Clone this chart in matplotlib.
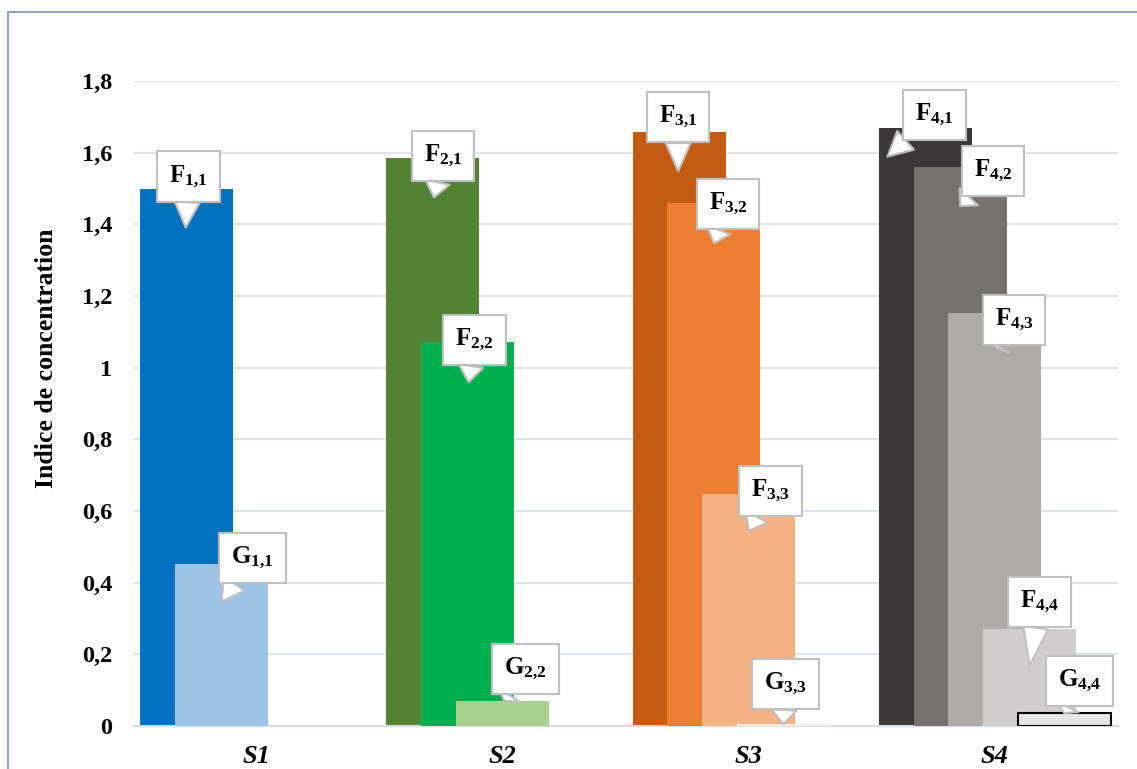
import matplotlib
matplotlib.use("Agg")
import matplotlib.pyplot as plt
from matplotlib import transforms
from matplotlib.lines import Line2D
from matplotlib.ticker import FuncFormatter

plt.rcParams['font.family'] = 'Liberation Serif'
plt.rcParams['font.weight'] = 'bold'
plt.rcParams['mathtext.fontset'] = 'custom'
plt.rcParams['mathtext.bf'] = 'Liberation Serif:bold'
plt.rcParams['mathtext.rm'] = 'Liberation Serif:bold'
plt.rcParams['mathtext.default'] = 'bf'

# Data
categories = ['S1', 'S2', 'S3', 'S4']

s1_values = [1.50, 0.453]
s2_values = [1.584, 1.071, 0.070]
s3_values = [1.657, 1.459, 0.648, 0.005]
s4_values = [1.670, 1.560, 1.152, 0.271, 0.036]

s1_labels = ['F_{1{,}1}', 'G_{1{,}1}']
s2_labels = ['F_{2{,}1}', 'F_{2{,}2}', 'G_{2{,}2}']
s3_labels = ['F_{3{,}1}', 'F_{3{,}2}', 'F_{3{,}3}', 'G_{3{,}3}']
s4_labels = ['F_{4{,}1}', 'F_{4{,}2}', 'F_{4{,}3}', 'F_{4{,}4}', 'G_{4{,}4}']

# Styles
s1_colors = ['#0070C0', '#9DC3E6']
s2_colors = ['#548235', '#00B050', '#A9D18E']
s3_colors = ['#C55A11', '#ED7D31', '#F4B183', '#F5EDE8']
s4_colors = ['#3A3838', '#767171', '#AEAAAA', '#D0CECE', '#E7E6E6']

# callout layout in pixels: (tip dx, tip dy from bar top, box dx, box dy from tip)
s1_callouts = [(-1, -39, 3, 51), (0, -38, 31, 44)]
s2_callouts = [(1, -39, 9, 41), (1, -40, 6, 42), (2, 0, 21, 32)]
s3_callouts = [(-1, -39, 0, 54), (0, -40, 14, 39), (0, -37, 22, 40), (0, 0, 2, 40)]
s4_callouts = [(-38, -29, 47, 42), (0, -39, 33, 35), (2, -35, 17, 28),
               (0, -37, 10, 64), (0, 0, 15, 32)]

groups = [
    (s1_values, s1_labels, s1_colors, s1_callouts),
    (s2_values, s2_labels, s2_colors, s2_callouts),
    (s3_values, s3_labels, s3_colors, s3_callouts),
    (s4_values, s4_labels, s4_colors, s4_callouts),
]

W, H = 1137, 769
fig = plt.figure(figsize=(W / 100, H / 100), dpi=100)
ax = fig.add_axes([133 / W, 1 - 726 / H, (1118 - 133) / W, (726 - 81) / H])

bar_w = 0.378
step = 0.141

for gi, (vals, labs, cols, calls) in enumerate(groups):
    for k, (v, lab, c, cl) in enumerate(zip(vals, labs, cols, calls)):
        xc = gi + (k - 2) * step
        edge = 'black' if (gi == 3 and k == 4) else 'none'
        ax.bar(xc, v, width=bar_w, color=c, edgecolor=edge,
               linewidth=1.5, zorder=2 + k)
        tdx, tdy, bdx, bdy = cl
        tip_tr = transforms.offset_copy(ax.transData, fig=fig, x=tdx, y=tdy, units='dots')
        ax.annotate('$' + lab + '$', xy=(xc, v), xycoords=tip_tr,
                    xytext=(bdx, bdy), textcoords='offset pixels',
                    ha='center', va='center', fontsize=18, zorder=20,
                    bbox=dict(boxstyle='square,pad=0.48', fc='white',
                              ec='#BFBFBF', lw=1.5),
                    arrowprops=dict(arrowstyle='wedge,tail_width=1.0',
                                    fc='white', ec='#BFBFBF', lw=1.5,
                                    shrinkA=0, shrinkB=0))

ax.set_xlim(-0.5, 3.5)
ax.set_ylim(0, 1.8)
ax.set_yticks([i * 0.2 for i in range(10)])
ax.yaxis.set_major_formatter(FuncFormatter(
    lambda v, p: ('%.1f' % v).rstrip('0').rstrip('.').replace('.', ',')))
ax.set_xticks(range(len(categories)))
ax.set_xticklabels(categories, fontsize=19, fontstyle='italic', fontweight='bold')
ax.tick_params(axis='x', length=0, pad=14)
ax.tick_params(axis='y', length=0, pad=15, labelsize=17.5)

ax.grid(axis='y', color='#DFE3EA', lw=1.5, zorder=0)
ax.set_axisbelow(True)
for s in ['top', 'right', 'left']:
    ax.spines[s].set_visible(False)
ax.spines['bottom'].set_color('#D9DDE3')
ax.spines['bottom'].set_linewidth(1.5)

fig.text(47 / W, 1 - 358 / H, 'Indice de concentration', rotation=90,
         ha='center', va='center', fontsize=18.5, fontweight='bold')

# chart frame
fig.add_artist(Line2D([8 / W, 8 / W], [0, 1 - 12 / H], color='#8FA5C2', lw=1.5))
fig.add_artist(Line2D([8 / W, 1], [1 - 12 / H, 1 - 12 / H], color='#8FA5C2', lw=1.5))

fig.savefig('out.png', dpi=100)
